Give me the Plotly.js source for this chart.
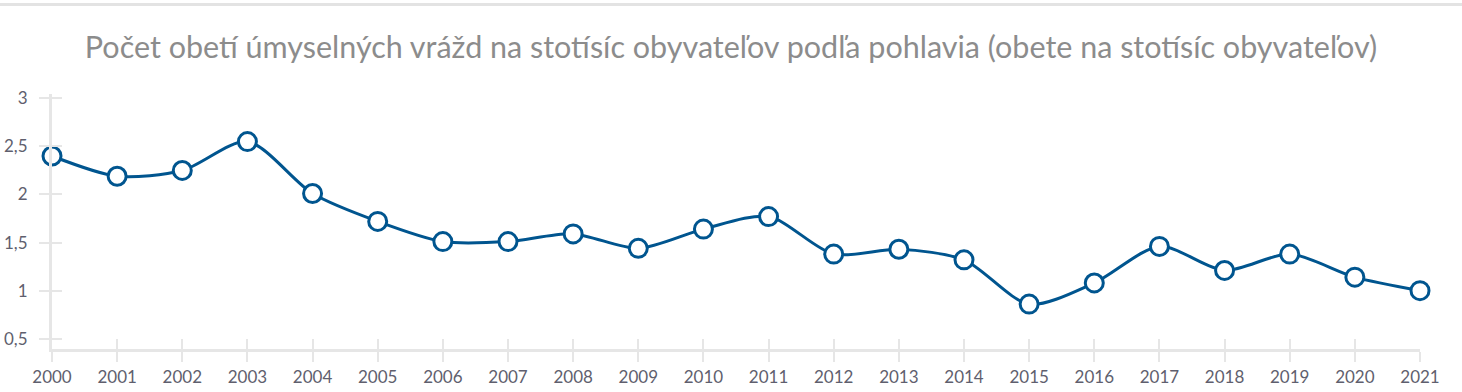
<!DOCTYPE html>
<html>
<head>
<meta charset="utf-8">
<script src="https://cdn.plot.ly/plotly-3.0.1.min.js"></script>
<style>
  html, body { margin: 0; padding: 0; background: #fff; }
  #wrap { position: relative; width: 1462px; height: 392px; }
  #bar { position: absolute; left: 0; top: 3px; width: 1462px; height: 3px; background: #e3e3e3; z-index: 10; }
  #chart { position: absolute; left: 0; top: 0; width: 1462px; height: 392px; z-index: 1; }
</style>
</head>
<body>
<div id="wrap">
  <div id="chart"></div>
  <div id="bar"></div>
</div>
<script>
const years = [2000, 2001, 2002, 2003, 2004, 2005, 2006, 2007, 2008, 2009, 2010,
               2011, 2012, 2013, 2014, 2015, 2016, 2017, 2018, 2019, 2020, 2021];
const victims = [2.40, 2.19, 2.25, 2.55, 2.01, 1.72, 1.51, 1.51, 1.59, 1.44, 1.64,
                 1.77, 1.38, 1.43, 1.32, 0.86, 1.08, 1.46, 1.21, 1.38, 1.14, 1.00];
const titleText = 'Počet obetí úmyselných vrážd na stotísíc obyvateľov podľa pohlavia (obete na stotísíc obyvateľov)';

const blue = '#00558f';
const axisGray = '#e6e6e6';
const labelColor = '#5f5f6e';
const font = 'Lato, "Open Sans", sans-serif';

const traces = [
  {
    x: years, y: victims, type: 'scatter', mode: 'lines+markers',
    line: { color: blue, width: 3, shape: 'spline', smoothing: 0.8 },
    marker: { size: 18, color: '#ffffff', line: { color: blue, width: 3 } },
    cliponaxis: false,
    hoverinfo: 'x+y'
  },
  {
    x: years, y: victims, type: 'scatter', mode: 'lines',
    xaxis: 'x2', yaxis: 'y2',
    line: { width: 0, color: 'rgba(0,0,0,0)' }, hoverinfo: 'skip', showlegend: false
  }
];

const yRange = [0.393, 3.045];
const xRange = [2000, 2021];

const layout = {
  width: 1462, height: 392,
  margin: { l: 52, r: 42, t: 94, b: 43 },
  paper_bgcolor: '#ffffff', plot_bgcolor: '#ffffff',
  showlegend: false,
  separators: ', ',
  font: { family: font, color: labelColor, size: 16 },
  title: {
    text: titleText,
    font: { family: font, size: 30.5, color: '#8c8c8c' },
    x: 0.5, xanchor: 'center', xref: 'container',
    y: 1 - 47 / 392, yanchor: 'middle', yref: 'container'
  },
  xaxis: {
    range: xRange, tickmode: 'array', tickvals: years, ticktext: years.map(String),
    showgrid: false, zeroline: false,
    showline: true, linecolor: axisGray, linewidth: 3,
    ticks: 'outside', ticklen: 10, tickwidth: 2, tickcolor: axisGray,
    ticklabelstandoff: 1,
    tickfont: { family: font, size: 17, color: labelColor }
  },
  xaxis2: {
    range: xRange, overlaying: 'x', anchor: 'y2', tickmode: 'array', tickvals: years,
    showgrid: false, zeroline: false, showline: false, showticklabels: false,
    ticks: 'inside', ticklen: 10, tickwidth: 2, tickcolor: axisGray
  },
  yaxis: {
    range: yRange, tick0: 0.5, dtick: 0.5,
    showgrid: false, zeroline: false,
    showline: true, linecolor: axisGray, linewidth: 3,
    ticks: 'outside', ticklen: 10, tickwidth: 2, tickcolor: axisGray,
    ticklabelstandoff: 8,
    tickfont: { family: font, size: 17, color: labelColor }
  },
  yaxis2: {
    range: yRange, overlaying: 'y', anchor: 'x2', tick0: 0.5, dtick: 0.5,
    showgrid: false, zeroline: false, showline: false, showticklabels: false,
    ticks: 'inside', ticklen: 10, tickwidth: 2, tickcolor: axisGray
  }
};

Plotly.newPlot('chart', traces, layout, { displayModeBar: false, staticPlot: true });
</script>
</body>
</html>
